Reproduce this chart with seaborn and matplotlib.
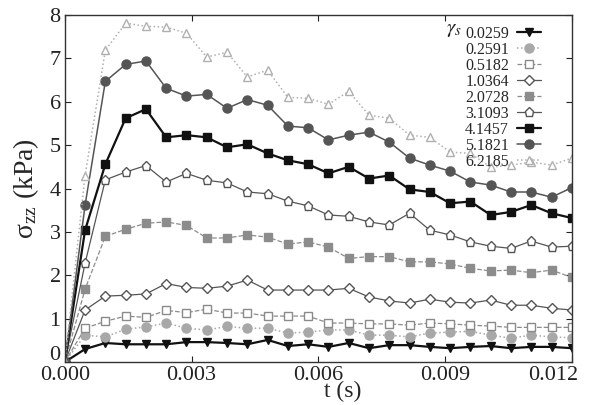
import matplotlib
matplotlib.use("Agg")
import matplotlib.pyplot as plt
import matplotlib.transforms as mtransforms
import seaborn as sns
import pandas as pd

t = [0.0, 0.00048, 0.00096, 0.00144, 0.00192, 0.0024, 0.00288, 0.00336, 0.00384,
     0.00432, 0.0048, 0.00528, 0.00576, 0.00624, 0.00672, 0.0072, 0.00768,
     0.00816, 0.00864, 0.00912, 0.0096, 0.01008, 0.01056, 0.01104, 0.01152, 0.012]

gamma_labels = ["0.0259", "0.2591", "0.5182", "1.0364", "2.0728",
                "3.1093", "4.1457", "5.1821", "6.2185"]

s_0259 = [0, 0.30, 0.44, 0.41, 0.41, 0.41, 0.46, 0.46, 0.44, 0.41, 0.51, 0.37, 0.41,
          0.35, 0.44, 0.32, 0.39, 0.39, 0.35, 0.32, 0.35, 0.37, 0.32, 0.35, 0.35, 0.32]
s_2591 = [0, 0.62, 0.58, 0.76, 0.81, 0.90, 0.78, 0.74, 0.82, 0.78, 0.78, 0.67, 0.69,
          0.74, 0.74, 0.62, 0.62, 0.58, 0.67, 0.69, 0.71, 0.62, 0.55, 0.62, 0.58, 0.56]
s_5182 = [0, 0.78, 0.94, 1.06, 1.03, 1.19, 1.14, 1.22, 1.13, 1.13, 1.06, 1.06, 1.06,
          0.90, 0.90, 0.88, 0.88, 0.85, 0.90, 0.88, 0.85, 0.83, 0.80, 0.80, 0.80, 0.80]
s_10364 = [0, 1.20, 1.52, 1.54, 1.57, 1.81, 1.72, 1.70, 1.75, 1.89, 1.66, 1.66, 1.66,
           1.66, 1.70, 1.50, 1.41, 1.36, 1.45, 1.38, 1.36, 1.43, 1.31, 1.31, 1.24, 1.20]
s_20728 = [0, 1.68, 2.90, 3.06, 3.20, 3.23, 3.15, 2.86, 2.86, 2.93, 2.88, 2.72, 2.77,
           2.65, 2.39, 2.43, 2.43, 2.31, 2.31, 2.26, 2.16, 2.10, 2.12, 2.06, 2.12, 1.95]
s_31093 = [0, 2.28, 4.20, 4.38, 4.53, 4.15, 4.35, 4.19, 4.13, 3.92, 3.88, 3.71, 3.60,
           3.39, 3.36, 3.23, 3.16, 3.43, 3.04, 2.93, 2.77, 2.67, 2.62, 2.79, 2.65, 2.67]
s_41457 = [0, 3.04, 4.56, 5.62, 5.83, 5.18, 5.23, 5.18, 4.95, 5.02, 4.81, 4.65, 4.56,
           4.35, 4.50, 4.23, 4.30, 3.98, 3.92, 3.66, 3.70, 3.39, 3.46, 3.62, 3.43, 3.32]
s_51821 = [0, 3.62, 6.47, 6.86, 6.94, 6.31, 6.13, 6.17, 5.85, 6.05, 5.92, 5.44, 5.40,
           5.12, 5.23, 5.30, 5.07, 4.70, 4.54, 4.40, 4.15, 4.08, 3.92, 3.92, 3.80, 4.02]
s_62185 = [0, 4.30, 7.19, 7.81, 7.74, 7.72, 7.58, 7.03, 7.14, 6.57, 6.73, 6.10, 6.08,
           5.94, 6.24, 5.69, 5.62, 5.23, 5.18, 4.84, 4.81, 4.49, 4.54, 4.61, 4.54, 4.70]

series = [s_0259, s_2591, s_5182, s_10364, s_20728, s_31093, s_41457, s_51821, s_62185]

rows = []
for lab, vals in zip(gamma_labels, series):
    for ti, v in zip(t, vals):
        rows.append({"t": ti, "sigma": v, "gamma": lab})
df = pd.DataFrame(rows)

styles = {
    "0.0259": dict(color="#111111", marker="v", mfc="#111111", ls="-", lw=1.6),
    "0.2591": dict(color="#a8a8a8", marker="o", mfc="#a8a8a8", ls=":", lw=1.1),
    "0.5182": dict(color="#8a8a8a", marker="s", mfc="white", ls="--", lw=0.9),
    "1.0364": dict(color="#555555", marker="D", mfc="white", ls="-", lw=0.9),
    "2.0728": dict(color="#8c8c8c", marker="s", mfc="#8c8c8c", ls="--", lw=0.9),
    "3.1093": dict(color="#555555", marker="p", mfc="white", ls="-", lw=0.9),
    "4.1457": dict(color="#111111", marker="s", mfc="#111111", ls="-", lw=1.6),
    "5.1821": dict(color="#555555", marker="o", mfc="#555555", ls="-", lw=1.1),
    "6.2185": dict(color="#b0b0b0", marker="^", mfc="white", ls=":", lw=1.1),
}

sns.set_theme(style="ticks")
plt.rcParams["font.family"] = ["Liberation Serif", "DejaVu Serif"]
plt.rcParams["mathtext.fontset"] = "stix"

fig = plt.figure(figsize=(6.0, 4.05), dpi=100)
ax = fig.add_axes([0.108, 0.106, 0.845, 0.857])

for lab in gamma_labels:
    st = styles[lab]
    sub = df[df["gamma"] == lab]
    ms = 6.5 if st["marker"] in ("p", "o") else (5.5 if st["marker"] == "D" else 6)
    sns.lineplot(data=sub, x="t", y="sigma", ax=ax, color=st["color"],
                 linestyle=st["ls"], linewidth=st["lw"], marker=st["marker"],
                 markersize=ms, markerfacecolor=st["mfc"],
                 markeredgecolor=st["color"], markeredgewidth=1.0,
                 label=lab, estimator=None, sort=False)

ax.set_xlim(0, 0.012)
ax.set_ylim(0, 8)
ax.set_xticks([0.0, 0.003, 0.006, 0.009, 0.012])
ax.set_xticklabels(["0.000", "0.003", "0.006", "0.009", "0.012"])
ax.set_yticks(range(0, 9))
ax.tick_params(direction="in", top=True, right=True, labelsize=16,
               length=4, width=0.8, pad=3, colors="#222222")
for sp in ax.spines.values():
    sp.set_linewidth(1.0)
    sp.set_color("#333333")

xl = ax.get_xticklabels()
xl[-1].set_horizontalalignment("right")
xl[-1].set_transform(xl[-1].get_transform() +
                     mtransforms.ScaledTranslation(6 / 100, 0, fig.dpi_scale_trans))
yl = ax.get_yticklabels()
yl[0].set_verticalalignment("bottom")
yl[0].set_transform(yl[0].get_transform() +
                    mtransforms.ScaledTranslation(0, -3 / 100, fig.dpi_scale_trans))

ax.set_xlabel("t (s)", fontsize=17, labelpad=-1)
ax.xaxis.set_label_coords(0.548, -0.055, transform=ax.transAxes)
ax.xaxis.label.set_verticalalignment("top")
ax.set_ylabel(r"$\mathregular{\sigma_{zz}}$ (kPa)", fontsize=20, labelpad=6)

leg = ax.legend(loc="upper right", bbox_to_anchor=(0.958, 0.997), frameon=False,
                markerfirst=False, fontsize=11.5, handlelength=1.5,
                labelspacing=0.0, handletextpad=0.5, borderaxespad=0.2)
ax.text(0.752, 0.958, r"$\gamma_s$", transform=ax.transAxes, fontsize=15,
        ha="left", va="center", color="#222222")

fig.savefig("out.png", dpi=100)
